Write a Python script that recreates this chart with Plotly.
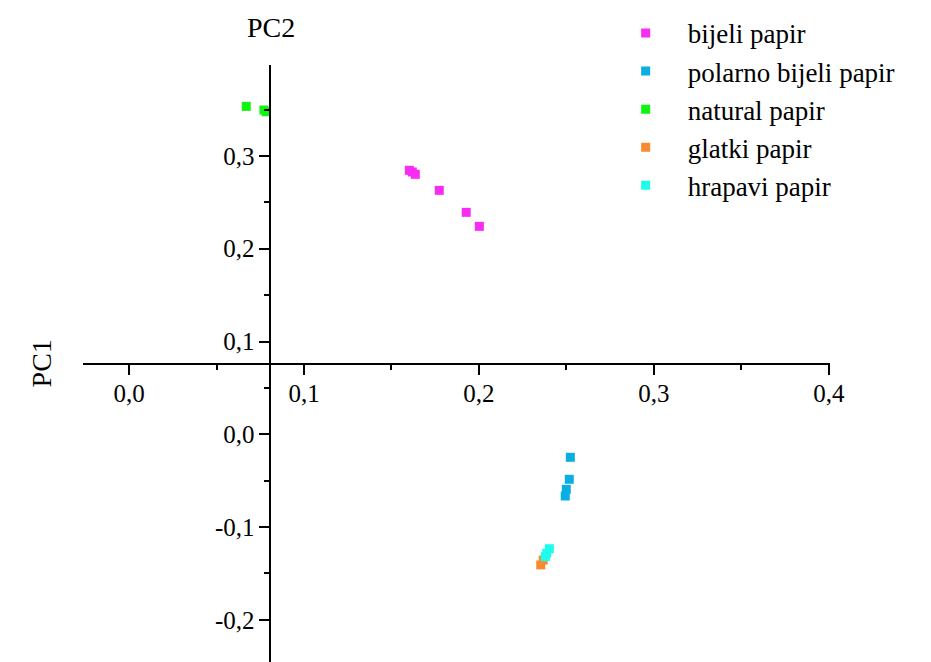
import plotly.graph_objects as go

# PCA scores per paper type (x = score on horizontal axis, y = score on vertical axis)
series_names = ["bijeli papir", "polarno bijeli papir", "natural papir", "glatki papir", "hrapavi papir"]
series_colors = ["#F82CF2", "#0AAEE2", "#10F510", "#FA8A30", "#1EFCEC"]

bijeli_x = [0.1602, 0.1619, 0.1636, 0.1773, 0.1927, 0.2002]
bijeli_y = [0.2845, 0.2827, 0.2802, 0.2629, 0.2392, 0.2241]

polarno_x = [0.2522, 0.2516, 0.2499, 0.2493]
polarno_y = [-0.0248, -0.0485, -0.0593, -0.0665]

natural_x = [0.0670, 0.0771, 0.0783]
natural_y = [0.3534, 0.3495, 0.3476]

glatki_x = [0.2367, 0.2353]
glatki_y = [-0.1355, -0.1408]

hrapavi_x = [0.2402, 0.2387, 0.2379]
hrapavi_y = [-0.1233, -0.1282, -0.1319]

x_tickvals = [0.0, 0.1, 0.2, 0.3, 0.4]
x_ticktext = ["0,0", "0,1", "0,2", "0,3", "0,4"]
y_tickvals = [-0.2, -0.1, 0.0, 0.1, 0.2, 0.3]
y_ticktext = ["-0,2", "-0,1", "0,0", "0,1", "0,2", "0,3"]

xs = [bijeli_x, polarno_x, natural_x, glatki_x, hrapavi_x]
ys = [bijeli_y, polarno_y, natural_y, glatki_y, hrapavi_y]

FONT = "Liberation Serif"

fig = go.Figure()
for name, color, x, y in zip(series_names, series_colors, xs, ys):
    fig.add_trace(go.Scatter(
        x=x, y=y, mode="markers", name=name,
        marker=dict(symbol="square", size=9, color=color, line=dict(width=0)),
    ))

axis_common = dict(
    showgrid=False, zeroline=False, showline=True, linecolor="black", linewidth=2,
    ticks="outside", ticklen=10, tickwidth=2, tickcolor="black",
    tickfont=dict(family=FONT, size=25, color="black"),
    anchor="free", automargin=False,
)

fig.update_layout(
    width=931, height=662,
    margin=dict(l=83, r=101, t=65, b=0),
    paper_bgcolor="white", plot_bgcolor="white",
    font=dict(family=FONT, color="black"),
    xaxis=dict(
        range=[-0.0263, 0.4006], position=0.5, ticklabelstandoff=-3,
        tickvals=x_tickvals, ticktext=x_ticktext,
        minor=dict(dtick=0.05, tick0=0, ticks="outside", ticklen=5, tickwidth=2, tickcolor="black"),
        **axis_common,
    ),
    yaxis=dict(
        range=[-0.2454, 0.398], position=0.251, ticklabelstandoff=0,
        tickvals=y_tickvals, ticktext=y_ticktext,
        minor=dict(dtick=0.05, tick0=0, ticks="outside", ticklen=5, tickwidth=2, tickcolor="black"),
        **axis_common,
    ),
    legend=dict(
        x=0.697, y=1.094, xanchor="left", yanchor="top",
        font=dict(family=FONT, size=27, color="black"),
        bgcolor="rgba(0,0,0,0)", itemwidth=74,
    ),
    showlegend=True,
    annotations=[
        dict(text="PC2", xref="paper", yref="paper", x=0.252, y=1.062,
             xanchor="center", yanchor="middle",
             showarrow=False, font=dict(family=FONT, size=28, color="black")),
        dict(text="PC1", xref="paper", yref="paper", x=-0.055, y=0.5, textangle=-90,
             xanchor="center", yanchor="middle",
             showarrow=False, font=dict(family=FONT, size=28, color="black")),
    ],
)

fig.write_html("out.html")
